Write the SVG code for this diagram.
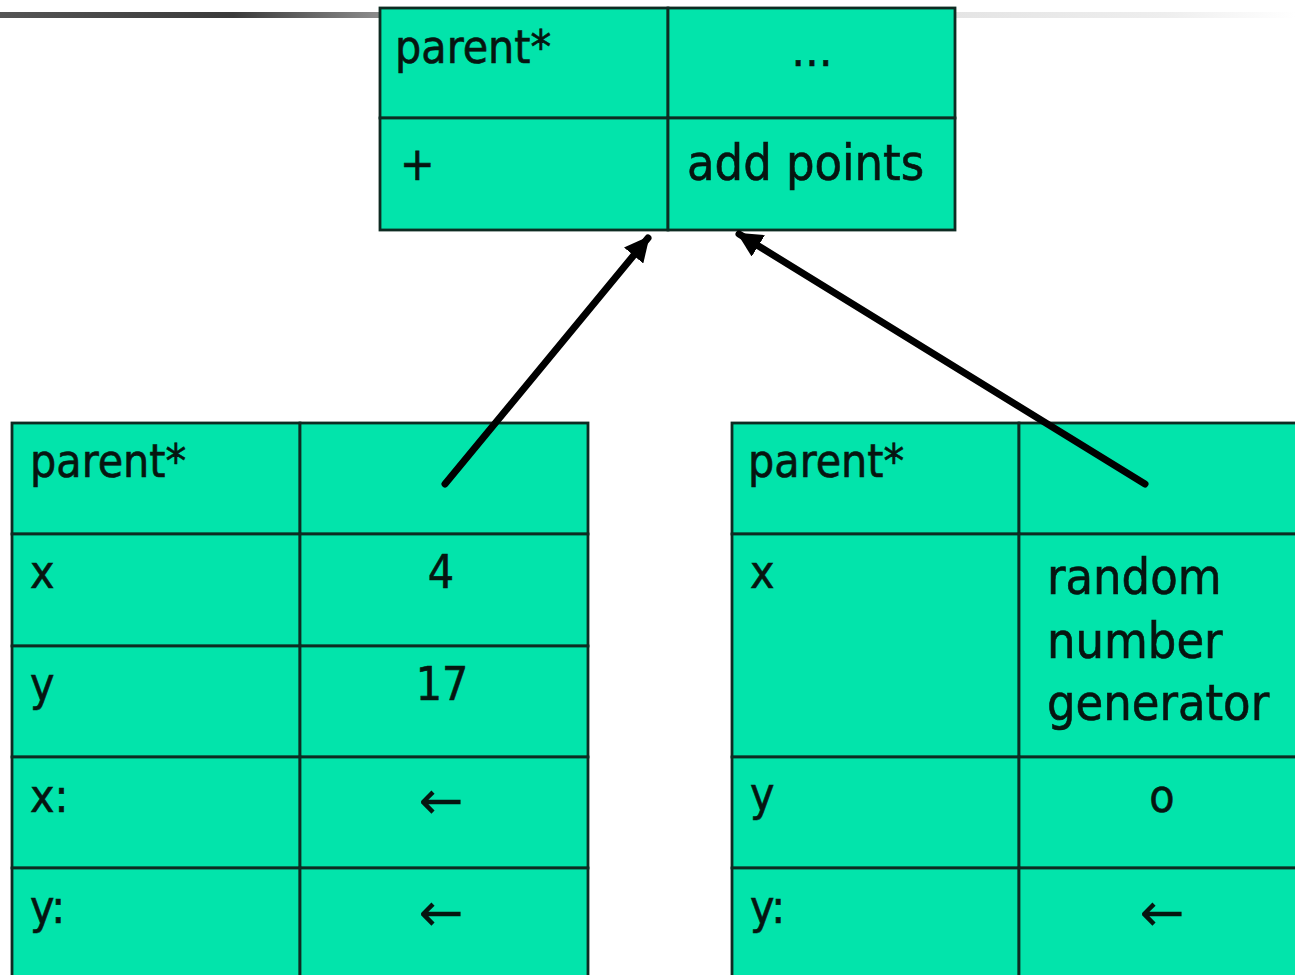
<svg xmlns="http://www.w3.org/2000/svg" width="1295" height="975" viewBox="0 0 1295 975">
<style>
.cell{fill:#02E4AB;stroke:#0d2b22;stroke-width:2.8}
.t{font-family:"DejaVu Sans Condensed","DejaVu Sans",sans-serif;font-stretch:condensed;fill:#061510;stroke:#061510;stroke-width:0.6;font-size:46px}
.v{font-size:50px}
.c{text-anchor:middle}
.arr{font-family:"DejaVu Sans","Liberation Sans",sans-serif;font-size:54px;fill:#061510;text-anchor:middle}
.conn{stroke:#000;stroke-width:7;fill:none;stroke-linecap:round}
</style>
<defs>
<linearGradient id="ul" x1="0" y1="0" x2="1295" y2="0" gradientUnits="userSpaceOnUse">
<stop offset="0" stop-color="#555"/>
<stop offset="0.18" stop-color="#3a3a3a"/>
<stop offset="0.29" stop-color="#8a8a8a"/>
<stop offset="0.5" stop-color="#d6d6d6"/>
<stop offset="0.9" stop-color="#eeeeee"/>
<stop offset="1" stop-color="#ffffff"/>
</linearGradient>
<marker id="ah" viewBox="0 0 10 10" refX="9" refY="5" markerWidth="3.6" markerHeight="3.6" orient="auto" markerUnits="strokeWidth">
<path d="M0,0 L10,5 L0,10 Z" fill="#000"/>
</marker>
</defs>
<rect x="0" y="0" width="1295" height="975" fill="#fff"/>
<rect x="0" y="12" width="1295" height="6" fill="url(#ul)"/>

<g id="top">
<rect class="cell" x="380" y="8" width="288" height="110"/>
<rect class="cell" x="668" y="8" width="287" height="110"/>
<rect class="cell" x="380" y="118" width="288" height="112"/>
<rect class="cell" x="668" y="118" width="287" height="112"/>
<text class="t" x="395" y="63">parent*</text>
<text class="t c" x="812" y="66">…</text>
<text class="t" x="400" y="180">+</text>
<text class="t v" x="687" y="180">add points</text>
</g>

<g id="left">
<rect class="cell" x="12" y="423" width="288" height="111"/>
<rect class="cell" x="300" y="423" width="288" height="111"/>
<rect class="cell" x="12" y="534" width="288" height="112"/>
<rect class="cell" x="300" y="534" width="288" height="112"/>
<rect class="cell" x="12" y="646" width="288" height="111"/>
<rect class="cell" x="300" y="646" width="288" height="111"/>
<rect class="cell" x="12" y="757" width="288" height="111"/>
<rect class="cell" x="300" y="757" width="288" height="111"/>
<rect class="cell" x="12" y="868" width="288" height="130"/>
<rect class="cell" x="300" y="868" width="288" height="130"/>
<text class="t" x="30" y="477">parent*</text>
<text class="t" x="30" y="588">x</text>
<text class="t c" x="441" y="588">4</text>
<text class="t" x="30" y="700">y</text>
<text class="t c" x="442" y="700">17</text>
<text class="t" x="30" y="812">x:</text>
<text class="arr" x="441" y="819">←</text>
<text class="t" x="30" y="923">y:</text>
<text class="arr" x="441" y="931">←</text>
</g>

<g id="right">
<rect class="cell" x="732" y="423" width="287" height="111"/>
<rect class="cell" x="1019" y="423" width="300" height="111"/>
<rect class="cell" x="732" y="534" width="287" height="223"/>
<rect class="cell" x="1019" y="534" width="300" height="223"/>
<rect class="cell" x="732" y="757" width="287" height="111"/>
<rect class="cell" x="1019" y="757" width="300" height="111"/>
<rect class="cell" x="732" y="868" width="287" height="130"/>
<rect class="cell" x="1019" y="868" width="300" height="130"/>
<text class="t" x="748" y="477">parent*</text>
<text class="t" x="750" y="588">x</text>
<text class="t v" x="1047" y="594">random</text>
<text class="t v" x="1047" y="658">number</text>
<text class="t v" x="1047" y="720">generator</text>
<text class="t" x="750" y="810">y</text>
<text class="t c" x="1162" y="812">o</text>
<text class="t" x="750" y="923">y:</text>
<text class="arr" x="1162" y="931">←</text>
</g>

<g id="connectors">
<line class="conn" x1="445" y1="484" x2="648" y2="238" marker-end="url(#ah)"/>
<line class="conn" x1="1145" y1="484" x2="739" y2="234" marker-end="url(#ah)"/>
</g>
</svg>
